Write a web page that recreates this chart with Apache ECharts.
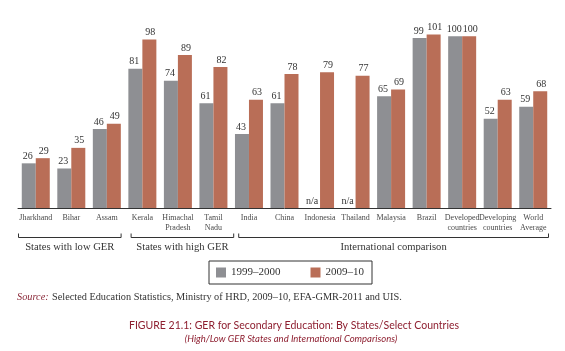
<!DOCTYPE html>
<html>
<head>
<meta charset="utf-8">
<script src="https://cdn.jsdelivr.net/npm/echarts@6/dist/echarts.min.js"></script>
<style>html,body{margin:0;padding:0;background:#fff;}#c{width:565px;height:351px;}</style>
</head>
<body>
<div id="c"></div>
<script>
const categories = ['Jharkhand','Bihar','Assam','Kerala','Himachal\nPradesh','Tamil\nNadu','India','China','Indonesia','Thailand','Malaysia','Brazil','Developed\ncountries','Developing\ncountries','World\nAverage'];
const series1999 = [26,23,46,81,74,61,43,61,null,null,65,99,100,52,59];
const series2009 = [29,35,49,98,89,82,63,78,79,77,69,101,100,63,68];
const seriesNames = ['1999–2000','2009–10'];
const groups = [
  {name:'States with low GER', from:0, to:2},
  {name:'States with high GER', from:3, to:5},
  {name:'International comparison', from:6, to:14}
];
const SERIF = 'Liberation Serif';
const chart = echarts.init(document.getElementById('c'));
const toData = arr => arr.map(v => v === null ? {value:0, label:{formatter:'n/a'}} : v);
chart.setOption({
  animation:false,
  backgroundColor:'#fff',
  grid:{left:18, right:14, top:19, height:189},
  title:[
    {text:'FIGURE 21.1: GER for Secondary Education: By States/Select Countries', left:289, top:315, textAlign:'center',
     textStyle:{fontFamily:'Lato', fontSize:10.5, fontWeight:'normal', color:'#8e1f30'}},
    {text:'(High/Low GER States and International Comparisons)', left:286, top:329, textAlign:'center',
     textStyle:{fontFamily:'Lato', fontSize:9.5, fontStyle:'italic', fontWeight:'normal', color:'#8e1f30'}}
  ],
  legend:{
    data:seriesNames, left:209, top:261, orient:'horizontal',
    itemWidth:10, itemHeight:10, itemGap:30, icon:'rect',
    borderColor:'#333', borderWidth:1, padding:[6,8,6,7],
    textStyle:{fontFamily:SERIF, fontSize:11, color:'#333', padding:[0,0,0,0]}
  },
  xAxis:{
    type:'category', data:categories,
    axisLine:{lineStyle:{color:'#333', width:1}},
    axisTick:{show:false},
    axisLabel:{interval:0, fontFamily:SERIF, fontSize:8, color:'#4a4a4a', lineHeight:10, margin:5}
  },
  yAxis:{type:'value', min:0, max:110, show:false, splitLine:{show:false}},
  series:[
    {name:seriesNames[0], type:'bar', data:toData(series1999), barWidth:14, barGap:'0%',
     itemStyle:{color:'#8e8f93'},
     label:{show:true, position:'top', distance:2, offset:[-1,0], fontFamily:SERIF, fontSize:10, color:'#333'}},
    {name:seriesNames[1], type:'bar', data:toData(series2009), barWidth:14, barGap:'0%',
     itemStyle:{color:'#b96e57'},
     label:{show:true, position:'top', distance:2, offset:[1,0], fontFamily:SERIF, fontSize:10, color:'#333'}}
  ]
});
const x0 = chart.convertToPixel({xAxisIndex:0}, 0);
const x1 = chart.convertToPixel({xAxisIndex:0}, 1);
const bw = x1 - x0;
const bnd = i => x0 - bw/2 + i*bw;
const baseY = chart.convertToPixel({yAxisIndex:0}, 0);
const brY = baseY + 29;
const offs = [[0,-3],[6,3],[7,-2]];
const g = [];
groups.forEach((gr, k) => {
  const a = bnd(gr.from) + offs[k][0];
  const b = bnd(gr.to + 1) + offs[k][1];
  g.push({type:'polyline', shape:{points:[[a+0.5,brY-3.5],[a+0.5,brY+0.5],[b-0.5,brY+0.5],[b-0.5,brY-3.5]]}, style:{stroke:'#333', lineWidth:1, fill:null}});
  g.push({type:'text', x:(a+b)/2, y:brY+10, style:{text:gr.name, fontFamily:SERIF, fontSize:10.6, fill:'#333', align:'center', verticalAlign:'middle'}});
});
g.push({type:'text', x:17, y:297, style:{
  text:'{s|Source:} {t|Selected Education Statistics, Ministry of HRD, 2009–10, EFA-GMR-2011 and UIS.}',
  rich:{s:{fontFamily:SERIF, fontStyle:'italic', fontSize:10.3, fill:'#8b2a3a'}, t:{fontFamily:SERIF, fontSize:10.3, fill:'#333'}},
  verticalAlign:'middle'}});
chart.setOption({graphic:g});
</script>
</body>
</html>
